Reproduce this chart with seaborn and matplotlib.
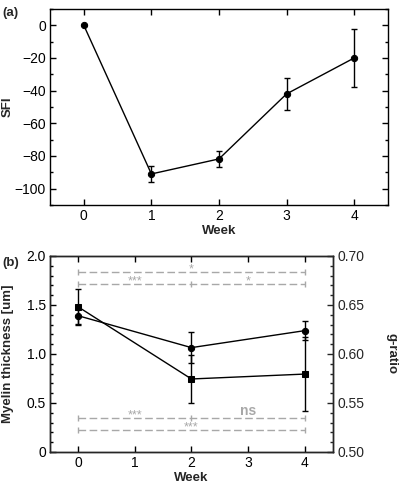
import numpy as np
import pandas as pd
import matplotlib
matplotlib.use("Agg")
import matplotlib.pyplot as plt
from matplotlib.ticker import MultipleLocator, FuncFormatter
import seaborn as sns

# ---- data ----
weeks_a = [0, 1, 2, 3, 4]
sfi = [0, -91, -81.8, -42, -20]
sfi_err = [0, 5, 4.7, 10, 18]

weeks_b = [0, 2, 4]
myelin = [1.48, 0.745, 0.795]
myelin_err = [0.18, 0.24, 0.38]
gratio = [0.639, 0.6065, 0.6238]
gratio_err = [0.008, 0.0155, 0.0095]

# significance bars: (y on left axis, tick positions, labels [(x, text)])
sig_y = [1.837, 1.717, 0.347, 0.224]
sig_ticks = [[0, 4], [0, 2, 4], [0, 2, 4], [0, 4]]
sig_text = [[(2, "*")], [(1, "***"), (3, "*")], [(1, "***"), (3, "ns")], [(2, "***")]]

TICK_FS = 10
LAB_FS = 9.5

sns.set_style("ticks")
plt.rcParams["font.family"] = ["Liberation Sans", "DejaVu Sans"]
plt.rcParams["font.size"] = TICK_FS
plt.rcParams["axes.linewidth"] = 1.0

fig = plt.figure(figsize=(4.02, 4.83), dpi=100)
axa = fig.add_axes([0.1244, 0.5756, 0.8406, 0.4058])
axb = fig.add_axes([0.1244, 0.0642, 0.7036, 0.4058])

def style_ticks(ax, right=True):
    ax.tick_params(which="both", direction="in", top=True, right=right,
                   labelsize=TICK_FS, colors="black", pad=3)
    ax.tick_params(which="major", length=4, width=1)
    ax.tick_params(which="minor", length=2.2, width=1)
    for s in ax.spines.values():
        s.set_visible(True)
        s.set_color("black")
        s.set_linewidth(1.0)

# ---- panel (a) ----
dfa = pd.DataFrame({"Week": weeks_a, "SFI": sfi})
sns.lineplot(data=dfa, x="Week", y="SFI", ax=axa, color="black", lw=1,
             marker="o", markersize=4.5, markeredgecolor="black")
axa.errorbar(weeks_a, sfi, yerr=sfi_err, fmt="none", ecolor="black",
             elinewidth=1, capsize=2.4, capthick=1)
axa.set_xlim(-0.5, 4.5)
axa.set_ylim(-110, 10)
axa.set_xticks(weeks_a)
axa.yaxis.set_major_locator(MultipleLocator(20))
axa.yaxis.set_minor_locator(MultipleLocator(10))
axa.yaxis.set_major_formatter(FuncFormatter(lambda v, p: f"{int(round(v))}".replace("-", "\u2212")))
style_ticks(axa)
axa.set_xlabel("Week", fontweight="bold", fontsize=LAB_FS, labelpad=1)
axa.set_ylabel("SFI", fontweight="bold", fontsize=LAB_FS, labelpad=1)
fig.text(0.005, 0.985, "(a)", fontweight="bold", fontsize=LAB_FS, va="top", ha="left")

# ---- panel (b) ----
axb2 = axb.twinx()
dfm = pd.DataFrame({"Week": weeks_b, "Myelin": myelin})
dfg = pd.DataFrame({"Week": weeks_b, "g": gratio})

GRAY = "#a8a8a8"
for y, tks, txts in zip(sig_y, sig_ticks, sig_text):
    axb.plot([0, 4], [y, y], color=GRAY, lw=1, dashes=(5.5, 2.5), zorder=1)
    axb.plot(tks, [y] * len(tks), ls="none", marker="|", markersize=5,
             markeredgewidth=1, color=GRAY, zorder=1)
    for xt, t in txts:
        if t == "ns":
            axb.annotate(t, (xt, y), xytext=(0, 2.2), textcoords="offset points",
                         ha="center", va="baseline", color=GRAY,
                         fontsize=10, fontweight="bold")
        else:
            axb.annotate(t, (xt, y), xytext=(0, -0.6), textcoords="offset points",
                         ha="center", va="baseline", color=GRAY, fontsize=9)

sns.lineplot(data=dfm, x="Week", y="Myelin", ax=axb, color="black", lw=1,
             marker="s", markersize=4.3, markeredgecolor="black", zorder=3)
axb.errorbar(weeks_b, myelin, yerr=myelin_err, fmt="none", ecolor="black",
             elinewidth=1, capsize=2.4, capthick=1, zorder=3)
sns.lineplot(data=dfg, x="Week", y="g", ax=axb2, color="black", lw=1,
             marker="o", markersize=4.5, markeredgecolor="black", zorder=3)
axb2.errorbar(weeks_b, gratio, yerr=gratio_err, fmt="none", ecolor="black",
              elinewidth=1, capsize=2.4, capthick=1, zorder=3)

axb.set_xlim(-0.5, 4.5)
axb.set_ylim(0, 2.0)
axb.set_xticks([0, 1, 2, 3, 4])
axb.yaxis.set_major_locator(MultipleLocator(0.5))
axb.yaxis.set_minor_locator(MultipleLocator(0.1))
axb.yaxis.set_major_formatter(FuncFormatter(lambda v, p: "0" if abs(v) < 1e-9 else f"{v:.1f}"))
style_ticks(axb, right=False)
axb.set_xlabel("Week", fontweight="bold", fontsize=LAB_FS, labelpad=1)
axb.set_ylabel("Myelin thickness [um]", fontweight="bold", fontsize=LAB_FS, labelpad=9)

axb2.set_ylim(0.5, 0.7)
axb2.yaxis.set_major_locator(MultipleLocator(0.05))
axb2.yaxis.set_minor_locator(MultipleLocator(0.01))
axb2.yaxis.set_major_formatter(FuncFormatter(lambda v, p: f"{v:.2f}"))
axb2.tick_params(which="both", direction="in", left=False, right=True,
                 labelsize=TICK_FS, pad=3)
axb2.tick_params(which="major", length=4, width=1)
axb2.tick_params(which="minor", length=2.2, width=1)
axb2.set_ylabel("g-ratio", fontweight="bold", fontsize=LAB_FS, rotation=270,
                labelpad=24)
fig.text(0.005, 0.468, "(b)", fontweight="bold", fontsize=LAB_FS, va="top", ha="left")

fig.savefig("out.png", dpi=100)
